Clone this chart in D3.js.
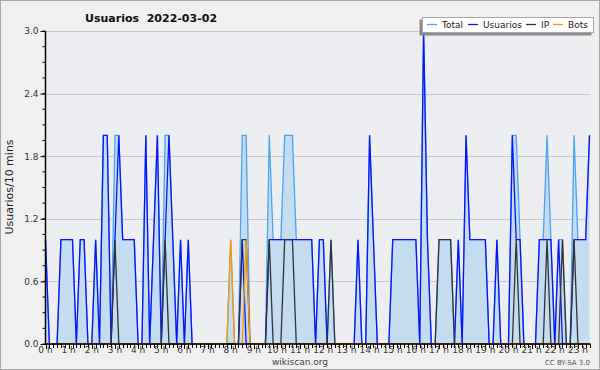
<!DOCTYPE html>
<html>
<head>
<meta charset="utf-8">
<script src="https://cdn.jsdelivr.net/npm/d3@7"></script>
<style>
  body { margin: 0; background: #fff; }
  svg text { font-family: "DejaVu Sans", sans-serif; }
</style>
</head>
<body>
<svg id="chart" width="600" height="370"></svg>
<script>
// one value per 10 minutes, 00:00 .. 23:30
const total = [
  1, 0, 0, 0, 1, 1, 1, 1, 0, 1,
  1, 0, 0, 1, 0, 2, 2, 0, 2, 2,
  1, 1, 1, 1, 0, 0, 2, 0, 1, 2,
  0, 2, 2, 1, 0, 1, 0, 1, 0, 0,
  0, 0, 0, 0, 0, 0, 0, 0, 1, 0,
  0, 2, 2, 0, 0, 0, 0, 0, 2, 1,
  1, 1, 2, 2, 2, 1, 1, 1, 1, 1,
  0, 1, 1, 0, 1, 0, 0, 0, 0, 0,
  0, 1, 0, 0, 2, 1, 0, 0, 0, 0,
  1, 1, 1, 1, 1, 1, 1, 0, 3, 1,
  0, 0, 1, 1, 1, 1, 0, 1, 0, 2,
  1, 1, 1, 1, 1, 0, 0, 1, 0, 0,
  0, 2, 2, 1, 0, 0, 0, 0, 1, 1,
  2, 1, 0, 1, 1, 0, 0, 2, 1, 1,
  1, 2
];
const usuarios = [
  1, 0, 0, 0, 1, 1, 1, 1, 0, 1,
  1, 0, 0, 1, 0, 2, 2, 0, 1, 2,
  1, 1, 1, 1, 0, 0, 2, 0, 1, 2,
  0, 1, 2, 1, 0, 1, 0, 1, 0, 0,
  0, 0, 0, 0, 0, 0, 0, 0, 0, 0,
  0, 1, 0, 0, 0, 0, 0, 0, 1, 1,
  1, 1, 1, 1, 1, 1, 1, 1, 1, 1,
  0, 1, 1, 0, 0, 0, 0, 0, 0, 0,
  0, 1, 0, 0, 2, 1, 0, 0, 0, 0,
  1, 1, 1, 1, 1, 1, 1, 0, 3, 1,
  0, 0, 0, 0, 0, 0, 0, 1, 0, 2,
  1, 1, 1, 1, 1, 0, 0, 1, 0, 0,
  0, 2, 1, 1, 0, 0, 0, 0, 1, 1,
  1, 1, 0, 1, 0, 0, 0, 1, 1, 1,
  1, 2
];
const ip = [
  0, 0, 0, 0, 0, 0, 0, 0, 0, 0,
  0, 0, 0, 0, 0, 0, 0, 0, 1, 0,
  0, 0, 0, 0, 0, 0, 0, 0, 0, 0,
  0, 1, 0, 0, 0, 0, 0, 0, 0, 0,
  0, 0, 0, 0, 0, 0, 0, 0, 0, 0,
  0, 1, 1, 0, 0, 0, 0, 0, 1, 0,
  0, 0, 1, 1, 1, 0, 0, 0, 0, 0,
  0, 0, 0, 0, 1, 0, 0, 0, 0, 0,
  0, 0, 0, 0, 0, 0, 0, 0, 0, 0,
  0, 0, 0, 0, 0, 0, 0, 0, 0, 0,
  0, 0, 1, 1, 1, 1, 0, 0, 0, 0,
  0, 0, 0, 0, 0, 0, 0, 0, 0, 0,
  0, 0, 1, 0, 0, 0, 0, 0, 0, 0,
  1, 0, 0, 0, 1, 0, 0, 1, 0, 0,
  0, 0
];
const bots = [
  0, 0, 0, 0, 0, 0, 0, 0, 0, 0,
  0, 0, 0, 0, 0, 0, 0, 0, 0, 0,
  0, 0, 0, 0, 0, 0, 0, 0, 0, 0,
  0, 0, 0, 0, 0, 0, 0, 0, 0, 0,
  0, 0, 0, 0, 0, 0, 0, 0, 1, 0,
  0, 0, 1, 0, 0, 0, 0, 0, 0, 0,
  0, 0, 0, 0, 0, 0, 0, 0, 0, 0,
  0, 0, 0, 0, 0, 0, 0, 0, 0, 0,
  0, 0, 0, 0, 0, 0, 0, 0, 0, 0,
  0, 0, 0, 0, 0, 0, 0, 0, 0, 0,
  0, 0, 0, 0, 0, 0, 0, 0, 0, 0,
  0, 0, 0, 0, 0, 0, 0, 0, 0, 0,
  0, 0, 0, 0, 0, 0, 0, 0, 0, 0,
  0, 0, 0, 0, 0, 0, 0, 0, 0, 0,
  0, 0
];
const hourLabels = ['0 h', '1 h', '2 h', '3 h', '4 h', '5 h', '6 h', '7 h', '8 h', '9 h', '10 h', '11 h',
  '12 h', '13 h', '14 h', '15 h', '16 h', '17 h', '18 h', '19 h', '20 h', '21 h', '22 h', '23 h'];
const yTicks = [0, 0.6, 1.2, 1.8, 2.4, 3.0];
const legendNames = ['Total', 'Usuarios', 'IP', 'Bots'];
const legendColors = ['#4aa3f0', '#0a14ff', '#333333', '#ff9900'];

const svg = d3.select('#chart');
const plotLeft = 45.5;
const plotRight = 589.5;
const plotTop = 31;
const plotBottom = 344;

const x = d3.scaleLinear().domain([0, total.length - 1]).range([plotLeft, plotRight]);
const y = d3.scaleLinear().domain([0, 3]).range([plotBottom, plotTop]);

// background
svg.append('rect').attr('x', 0.5).attr('y', 0.5).attr('width', 599).attr('height', 369)
  .attr('fill', '#f0f0f0').attr('stroke', '#a8a8a8');
svg.append('rect').attr('x', plotLeft).attr('y', plotTop)
  .attr('width', plotRight - plotLeft).attr('height', plotBottom - plotTop)
  .attr('fill', '#eceef1');

// grid
svg.append('g')
  .selectAll('line')
  .data(yTicks.filter(d => d > 0))
  .enter()
  .append('line')
  .attr('x1', plotLeft)
  .attr('x2', plotRight)
  .attr('y1', d => Math.round(y(d)) + 0.5)
  .attr('y2', d => Math.round(y(d)) + 0.5)
  .attr('stroke', '#c9c9c9');

// total area + lines
const area = d3.area().x((d, i) => x(i)).y0(y(0)).y1(d => y(d));
const line = d3.line().x((d, i) => x(i)).y(d => y(d));
svg.append('path').datum(total).attr('d', area).attr('fill', '#c5dcf0');
svg.append('path').datum(total).attr('d', line).attr('fill', 'none')
  .attr('stroke', legendColors[0]).attr('stroke-width', 1.3);
[usuarios, ip, bots].forEach((s, k) => {
  svg.append('path').datum(s).attr('d', line).attr('fill', 'none')
    .attr('stroke', legendColors[k + 1]).attr('stroke-width', 1.3);
});

// y axis
const yAxis = d3.axisLeft(y).tickValues(yTicks).tickFormat(d3.format('.1f')).tickSize(5).tickPadding(2);
const yg = svg.append('g').attr('transform', `translate(${plotLeft},0)`).call(yAxis);
yg.select('.domain').remove();
yg.selectAll('text').attr('font-size', 9).attr('fill', '#333').attr('font-family', 'DejaVu Sans');
yg.selectAll('.tick line').attr('stroke', '#000');
svg.append('g').selectAll('line')
  .data(d3.range(0, 3.001, 0.15))
  .enter()
  .append('line')
  .attr('x1', plotLeft - 3)
  .attr('x2', plotLeft)
  .attr('y1', d => y(d))
  .attr('y2', d => y(d))
  .attr('stroke', '#000');
svg.append('line').attr('x1', plotLeft).attr('x2', plotLeft).attr('y1', plotTop).attr('y2', plotBottom + 1)
  .attr('stroke', '#000').attr('stroke-width', 1.5);

// x axis
svg.append('g').selectAll('line')
  .data(d3.range(total.length))
  .enter()
  .append('line')
  .attr('x1', d => Math.round(x(d)) + 0.5)
  .attr('x2', d => Math.round(x(d)) + 0.5)
  .attr('y1', plotBottom)
  .attr('y2', d => (d % 6 === 0 ? plotBottom + 5 : plotBottom + 4))
  .attr('stroke', '#000');
svg.append('line').attr('x1', plotLeft).attr('x2', plotRight + 1).attr('y1', plotBottom).attr('y2', plotBottom)
  .attr('stroke', '#000').attr('stroke-width', 1.5);
svg.append('g').selectAll('text')
  .data(hourLabels)
  .enter()
  .append('text')
  .attr('x', (d, i) => x(i * 6))
  .attr('y', 353)
  .attr('text-anchor', 'middle')
  .attr('font-size', 9)
  .attr('fill', '#333')
  .text(d => d);

// titles
svg.append('text').attr('x', 85).attr('y', 22).attr('font-size', 11).attr('font-weight', 'bold')
  .attr('fill', '#111').style('white-space', 'pre').text('Usuarios  2022-03-02');
svg.append('text').attr('transform', 'translate(13,187) rotate(-90)').attr('text-anchor', 'middle')
  .attr('font-size', 11).attr('font-family', 'DejaVu Sans Mono').attr('fill', '#222')
  .text('Usuarios/10 mins');
svg.append('text').attr('x', 300).attr('y', 365).attr('text-anchor', 'middle')
  .attr('font-size', 9).attr('fill', '#444').text('wikiscan.org');
svg.append('text').attr('x', 590).attr('y', 365).attr('text-anchor', 'end')
  .attr('font-size', 7).attr('fill', '#555').text('CC BY-SA 3.0');

// legend
svg.append('rect').attr('x', 419.5).attr('y', 19.5).attr('width', 172).attr('height', 16).attr('fill', '#8a8a8a');
svg.append('rect').attr('x', 422.5).attr('y', 17.5).attr('width', 171).attr('height', 15)
  .attr('fill', '#fff').attr('stroke', '#a8a8a8');
const legendX = [427, 468, 526, 553];
legendNames.forEach((n, i) => {
  svg.append('line').attr('x1', legendX[i]).attr('x2', legendX[i] + 10).attr('y1', 24.5).attr('y2', 24.5)
    .attr('stroke', legendColors[i]).attr('stroke-width', 1.3);
  svg.append('text').attr('x', legendX[i] + 15).attr('y', 28).attr('font-size', 9).attr('fill', '#222').text(n);
});
</script>
</body>
</html>
